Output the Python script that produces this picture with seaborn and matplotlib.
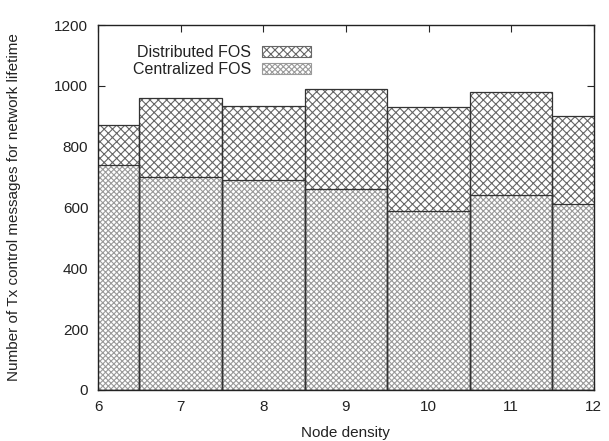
import matplotlib
matplotlib.use("Agg")
import matplotlib.pyplot as plt
import seaborn as sns
import pandas as pd
from matplotlib.patches import Patch, Rectangle

node_density = [6, 7, 8, 9, 10, 11, 12]
distributed_fos = [870, 960, 935, 990, 930, 980, 900]
centralized_fos = [740, 700, 690, 660, 590, 640, 610]
yticks = [0, 200, 400, 600, 800, 1000, 1200]

sns.set_style("white")
plt.rcParams['font.family'] = ['Liberation Sans', 'DejaVu Sans']
plt.rcParams['hatch.linewidth'] = 0.8

df = pd.DataFrame({"x": node_density, "dist": distributed_fos, "cent": centralized_fos})

fig = plt.figure(figsize=(6.09, 4.41), dpi=100)
ax = fig.add_axes([0.161, 0.116, 0.814, 0.827])

DIST_HATCH = '#666666'
CENT_HATCH = '#9a9a9a'
OUTLINE = '#333333'

sns.barplot(data=df, x="x", y="dist", native_scale=True, width=1.0, color="white",
            edgecolor=DIST_HATCH, linewidth=0, ax=ax, errorbar=None)
n = len(ax.patches)
for p in list(ax.patches[:n]):
    p.set_hatch('xxxx')
    p.set_edgecolor(DIST_HATCH)
sns.barplot(data=df, x="x", y="cent", native_scale=True, width=1.0, color="white",
            edgecolor=CENT_HATCH, linewidth=0, ax=ax, errorbar=None)
for p in list(ax.patches[n:]):
    p.set_hatch('xxxxxx')
    p.set_edgecolor(CENT_HATCH)

# outlines drawn over the hatched bars
for p in list(ax.patches):
    ax.add_patch(Rectangle(p.get_xy(), p.get_width(), p.get_height(), fill=False,
                           edgecolor=OUTLINE, linewidth=0.9, zorder=p.get_zorder() + 0.1))

ax.set_xlim(6, 12)
ax.set_ylim(0, 1200)
ax.set_xticks(node_density)
ax.set_yticks(yticks)
FS = 11
ax.set_xlabel("Node density", fontsize=FS, color='#222222', labelpad=9)
ax.set_ylabel("Number of Tx control messages for network lifetime", fontsize=FS,
              color='#222222', labelpad=24)
ax.tick_params(axis='both', labelsize=FS, direction='in', length=5, width=0.8,
               top=True, right=True, bottom=True, left=True, pad=7, labelcolor='#222222')
for s in ax.spines.values():
    s.set_linewidth(1.0)
    s.set_color('#222222')

handles = [Patch(facecolor='white', edgecolor=DIST_HATCH, hatch='xxxx', linewidth=0.8),
           Patch(facecolor='white', edgecolor=CENT_HATCH, hatch='xxxxxx', linewidth=0.8)]
leg = ax.legend(handles, ["Distributed FOS", "Centralized FOS"], loc='upper right',
                bbox_to_anchor=(0.43, 0.945), frameon=False, markerfirst=False,
                fontsize=11.5, handlelength=3.1, handleheight=0.65, labelspacing=0.1,
                handletextpad=0.65, borderaxespad=0, borderpad=0)
for t in leg.get_texts():
    t.set_color('#222222')

fig.savefig("out.png", dpi=100)
